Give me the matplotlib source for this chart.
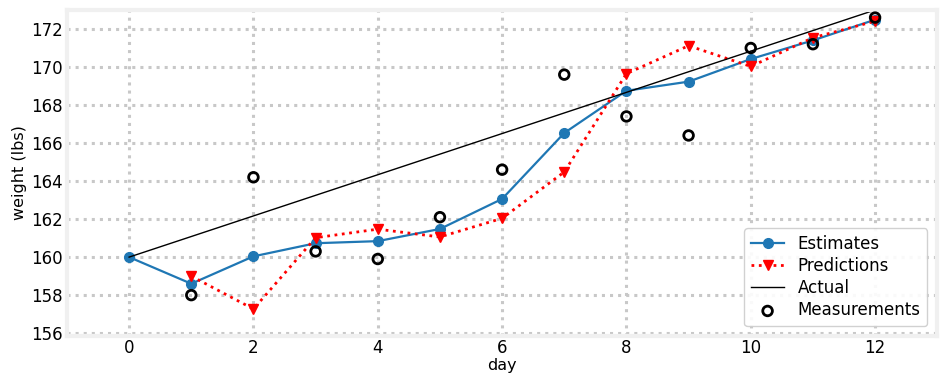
import matplotlib
matplotlib.use('Agg')
import matplotlib.pyplot as plt

# data
days = [0, 1, 2, 3, 4, 5, 6, 7, 8, 9, 10, 11, 12]
meas_days = [1, 2, 3, 4, 5, 6, 7, 8, 9, 10, 11, 12]
measurements = [158.0, 164.2, 160.3, 159.9, 162.1, 164.6, 169.6, 167.4, 166.4, 171.0, 171.2, 172.6]
estimates = [160.0, 158.6, 160.04, 160.73, 160.84, 161.48, 163.06, 166.53, 168.75, 169.23, 170.42, 171.40, 172.49]
predictions = [159.0, 157.27, 161.02, 161.47, 161.06, 162.04, 164.48, 169.65, 171.12, 170.03, 171.54, 172.41]
actual_x = [0, 12]
actual_y = [160, 173]

fig = plt.figure(figsize=(9.47, 3.84), dpi=100)
ax = fig.add_axes([0.0707, 0.125, 0.919, 0.849])

ax.plot(days, estimates, '-o', color='#1f77b4', lw=1.6, ms=7, label='Estimates')
ax.plot(meas_days, predictions, ':v', color='red', lw=2, ms=7, label='Predictions')
ax.plot(actual_x, actual_y, '-', color='black', lw=1, label='Actual')
ax.scatter(meas_days, measurements, s=48, facecolor='none', edgecolor='black',
           linewidths=2, label='Measurements', zorder=3)

ax.set_xlim(-1, 13)
ax.set_ylim(155.85, 173.0)
ax.set_xticks([0, 2, 4, 6, 8, 10, 12])
ax.set_yticks([156, 158, 160, 162, 164, 166, 168, 170, 172])
ax.tick_params(axis='x', length=0, labelsize=12, pad=2)
ax.tick_params(axis='y', length=0, labelsize=12, pad=3)
ax.grid(True, ls=':', color='#c8c8c8', lw=2.2)
ax.set_axisbelow(True)
for s in ax.spines.values():
    s.set_color('#f0f0f0')
    s.set_linewidth(3)

ax.set_xlabel('day', fontsize=11.5, labelpad=1)
ax.set_ylabel('weight (lbs)', fontsize=11.5, labelpad=3)
ax.legend(loc='lower right', fontsize=12, framealpha=0.9, borderaxespad=0.6,
          labelspacing=0.25, handlelength=2.0, borderpad=0.4)

plt.savefig('out.png', dpi=100)
